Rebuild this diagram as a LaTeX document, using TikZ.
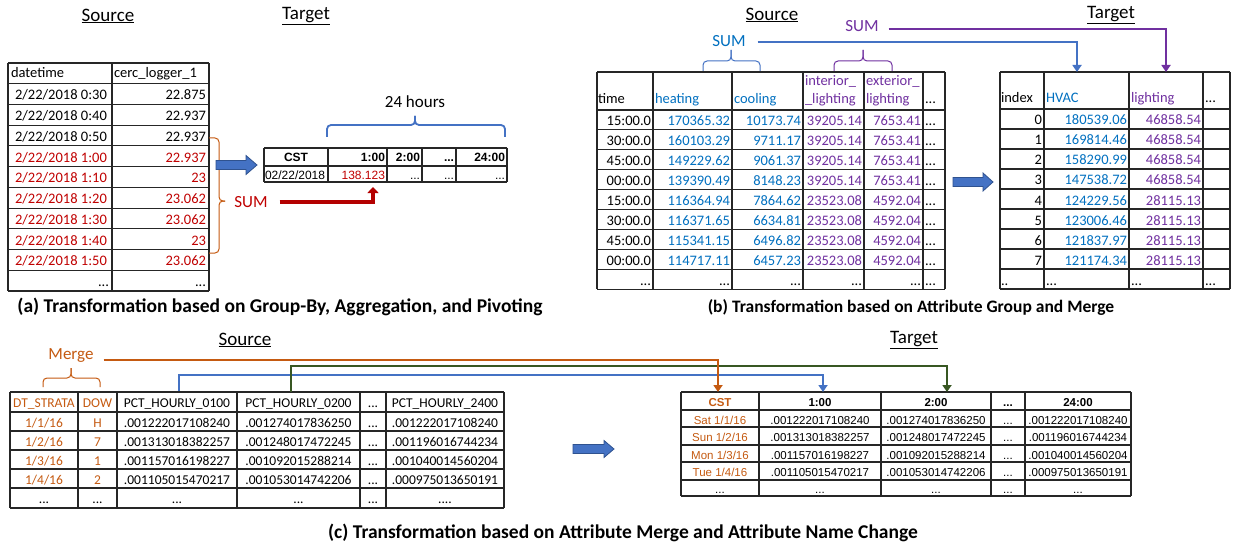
\documentclass[tikz,border=0pt]{standalone}
\usepackage{fontspec}
\setmainfont{Carlito}
\newfontfamily\arialf{Liberation Sans}
\usetikzlibrary{arrows.meta}
\definecolor{cred}{RGB}{192,0,0}
\definecolor{corange}{RGB}{197,90,17}
\definecolor{cblue}{RGB}{0,112,192}
\definecolor{cpurple}{RGB}{112,48,160}
\definecolor{lblue}{RGB}{68,114,196}
\definecolor{lgreen}{RGB}{56,87,35}
\definecolor{bfill}{RGB}{68,114,196}
\definecolor{bdraw}{RGB}{47,82,143}
\definecolor{dred}{RGB}{180,0,0}
\tikzset{
 grid line/.style={line width=1.1pt, draw=black!85},
 tx/.style={inner sep=0pt, outer sep=0pt},
 cal/.style={tx, font=\fontsize{14.5}{17}\selectfont},
 calS/.style={tx, font=\fontsize{13.5}{16}\selectfont},
 ari/.style={tx, font=\arialf\fontsize{12}{14}\selectfont},
 ariB/.style={tx, font=\arialf\bfseries\fontsize{12}{14}\selectfont},
 ariS/.style={tx, font=\arialf\fontsize{11.5}{14}\selectfont},
 ariSB/.style={tx, font=\arialf\bfseries\fontsize{11.5}{14}\selectfont},
 cellL/.style={anchor=base west},
 cellR/.style={anchor=base east},
 cellC/.style={anchor=base},
 titlelbl/.style={tx, font=\fontsize{19}{22}\selectfont, anchor=center},
 lbl/.style={tx, font=\fontsize{17}{20}\selectfont, anchor=center},
 captxt/.style={tx, font=\bfseries\fontsize{19.5}{22}\selectfont, anchor=center},
 captxtS/.style={tx, font=\bfseries\fontsize{17.5}{20}\selectfont, anchor=center},
 conn/.style={line width=2.6pt, -{Triangle[length=7pt,width=9pt]}},
 brc/.style={line width=1pt, rounded corners=4pt},
 barrow/.style={fill=bfill, draw=bdraw, line width=0.8pt},
}
\begin{document}
\begin{tikzpicture}[x=1pt,y=-1pt]
\useasboundingbox (0,0) rectangle (1233,548);
\fill[white] (0,0) rectangle (1233,548);

% ================= (a) =================
\node[titlelbl] (a-src) at (108,16) {\underline{Source}};
\node[titlelbl] (a-tgt) at (306,16) {\underline{Target}};
\foreach \x in {8,112,209} \draw[grid line] (\x,63) -- (\x,291);
\foreach \k in {0,...,11} \draw[grid line] (8,{63+20.727*\k}) -- (209,{63+20.727*\k});
\node[cal,cellL] (as-h1) at (11,78) {datetime};
\node[cal,cellL] (as-h2) at (114,78) {cerc\_logger\_1};
\foreach \tm/\v/\c [count=\i] in {0:30/22.875/black, 0:40/22.937/black, 0:50/22.937/black, 1:00/22.937/cred, 1:10/23/cred, 1:20/23.062/cred, 1:30/23.062/cred, 1:40/23/cred, 1:50/23.062/cred}{
  \pgfmathsetmacro\yy{63+20.727*(\i+1)-4.5}
  \node[cal,cellL,text=\c] (as-d\i) at (15,\yy) {2/22/2018 \tm};
  \node[cal,cellR,text=\c] (as-v\i) at (206,\yy) {\v};
}
\node[cal,cellR] (as-e1) at (109,286) {...};
\node[cal,cellR] (as-e2) at (206,286) {...};

% orange brace and SUM
\draw[brc, corange] (209,138) -- (219,138) -- (219,201) -- (225,201);
\draw[brc, corange] (209,253) -- (219,253) -- (219,201) -- (225,201);
\node[lbl, text=cred] (a-sum) at (251,202) {SUM};

% block arrow
\draw[barrow] (216,160.5) -- (246,160.5) -- (246,155.5) -- (257,165) -- (246,174.5) -- (246,169.5) -- (216,169.5) -- cycle;

% target table
\foreach \x in {264,328,387,422,456,507} \draw[grid line] (\x,148) -- (\x,182);
\foreach \y in {148,166,182} \draw[grid line] (264,\y) -- (507,\y);
\node[ariB,cellC] (at-h1) at (296,162) {CST};
\node[ariB,cellR] (at-h2) at (385,162) {1:00};
\node[ariB,cellR] (at-h3) at (420,162) {2:00};
\node[ariB,cellR] (at-h4) at (454,162) {...};
\node[ariB,cellR] (at-h5) at (505,162) {24:00};
\node[ari,cellL] (at-r1) at (265,179) {02/22/2018};
\node[ari,cellR,text=cred] (at-r2) at (385,179) {138.123};
\node[ari,cellR] (at-r3) at (420,179) {...};
\node[ari,cellR] (at-r4) at (454,179) {...};
\node[ari,cellR] (at-r5) at (505,179) {...};

% 24 hours brace
\node[lbl] (a-24) at (415,102) {24 hours};
\draw[brc, lblue, line width=1.8pt] (327,137) -- (327,125) -- (415,125) -- (415,116);
\draw[brc, lblue, line width=1.8pt] (505,137) -- (505,125) -- (415,125) -- (415,116);

% red SUM arrow
\coordinate (a-tip) at (373,187);
\draw[line width=3.5pt, dred, -{Triangle[length=6pt,width=11pt]}] ([xshift=12pt]a-sum.east) -| (a-tip);

\node[captxt] (a-cap) at (280,307) {(a) Transformation based on Group-By, Aggregation, and Pivoting};

% ================= (b) =================
\node[titlelbl] (b-src) at (772,15) {\underline{Source}};
\node[titlelbl] (b-tgt) at (1111,15) {\underline{Target}};
\foreach \x in {597,653,732,803,864,923,945} \draw[grid line] (\x,72) -- (\x,289.1);
\draw[grid line] (597,72) -- (945,72);
\foreach \k in {0,...,9} \draw[grid line] (597,{110+19.9*\k}) -- (945,{110+19.9*\k});
\node[cal,cellL] (bs-h1) at (598,104) {time};
\node[cal,cellL,text=cblue] (bs-h2) at (655,104) {heating};
\node[cal,cellL,text=cblue] (bs-h3) at (734,104) {cooling};
\node[cal,cellL,text=cpurple] (bs-h4a) at (805,86) {interior\_};
\node[cal,cellL,text=cpurple] (bs-h4b) at (805,104) {\_lighting};
\node[cal,cellL,text=cpurple] (bs-h5a) at (866,86) {exterior\_};
\node[cal,cellL,text=cpurple] (bs-h5b) at (866,104) {lighting};
\node[cal,cellL] (bs-h6) at (925,104) {...};
\foreach \tm/\a/\b/\c/\d [count=\i] in {15:00.0/170365.32/10173.74/39205.14/7653.41, 30:00.0/160103.29/9711.17/39205.14/7653.41, 45:00.0/149229.62/9061.37/39205.14/7653.41, 00:00.0/139390.49/8148.23/39205.14/7653.41, 15:00.0/116364.94/7864.62/23523.08/4592.04, 30:00.0/116371.65/6634.81/23523.08/4592.04, 45:00.0/115341.15/6496.82/23523.08/4592.04, 00:00.0/114717.11/6457.23/23523.08/4592.04}{
  \pgfmathsetmacro\yy{110+19.9*\i-4}
  \node[cal,cellR] (bs-t\i) at (651,\yy) {\tm};
  \node[cal,cellR,text=cblue] (bs-a\i) at (730,\yy) {\a};
  \node[cal,cellR,text=cblue] (bs-b\i) at (801,\yy) {\b};
  \node[cal,cellR,text=cpurple] (bs-c\i) at (862,\yy) {\c};
  \node[cal,cellR,text=cpurple] (bs-d\i) at (921,\yy) {\d};
  \node[cal,cellL] (bs-e\i) at (925,\yy) {...};
}
\foreach \x [count=\i] in {651,730,801,862,921}
  \node[cal,cellR] (bs-l\i) at (\x,285) {...};
\node[cal,cellL] (bs-l6) at (925,285) {...};

% block arrow
\draw[barrow] (953,177.5) -- (983,177.5) -- (983,173) -- (993,182) -- (983,191) -- (983,186.5) -- (953,186.5) -- cycle;

% target table
\foreach \x in {1000,1044,1129,1203,1230} \draw[grid line] (\x,72) -- (\x,289);
\draw[grid line] (1000,72) -- (1230,72);
\foreach \k in {0,...,9} \draw[grid line] (1000,{109+20*\k}) -- (1230,{109+20*\k});
\node[cal,cellL] (bt-h1) at (1001,103) {index};
\node[cal,cellL,text=cblue] (bt-h2) at (1046,103) {HVAC};
\node[cal,cellL,text=cpurple] (bt-h3) at (1131,103) {lighting};
\node[cal,cellL] (bt-h4) at (1205,103) {...};
\foreach \h/\l [count=\i from 0] in {180539.06/46858.54, 169814.46/46858.54, 158290.99/46858.54, 147538.72/46858.54, 124229.56/28115.13, 123006.46/28115.13, 121837.97/28115.13, 121174.34/28115.13}{
  \pgfmathsetmacro\yy{109+20*(\i+1)-4}
  \node[cal,cellR] (bt-i\i) at (1042,\yy) {\i};
  \node[cal,cellR,text=cblue] (bt-v\i) at (1127,\yy) {\h};
  \node[cal,cellR,text=cpurple] (bt-w\i) at (1201,\yy) {\l};
}
\node[cal,cellL] (bt-l1) at (1001,285) {..};
\node[cal,cellL] (bt-l2) at (1046,285) {...};
\node[cal,cellL] (bt-l3) at (1131,285) {...};
\node[cal,cellL] (bt-l4) at (1205,285) {...};

% braces and SUM connectors
\draw[brc, lblue] (703,71) -- (703,61) -- (731,61) -- (731,50);
\draw[brc, lblue] (760,71) -- (760,61) -- (731,61) -- (731,50);
\draw[brc, cpurple] (834,71) -- (834,61) -- (863,61) -- (863,50);
\draw[brc, cpurple] (892,71) -- (892,61) -- (863,61) -- (863,50);
\node[lbl,text=cblue] (b-sum1) at (729,41) {SUM};
\node[lbl,text=cpurple] (b-sum2) at (862,26) {SUM};
\coordinate (b-tip1) at (1077,72);
\coordinate (b-tip2) at (1166,72);
\draw[conn, lblue] ([xshift=12pt,yshift=-1pt]b-sum1.east) -| (b-tip1);
\draw[conn, cpurple] ([xshift=10pt,yshift=-3pt]b-sum2.east) -| (b-tip2);

\node[captxtS] (b-cap) at (911,307) {(b) Transformation based on Attribute Group and Merge};

% ================= (c) =================
\node[titlelbl] (c-src) at (245,340) {\underline{Source}};
\node[titlelbl] (c-tgt) at (914,340) {\underline{Target}};
\node[lbl,text=corange] (c-merge) at (71,356) {Merge};
\draw[brc, corange] (43,387) -- (43,378) -- (71,378) -- (71,368);
\draw[brc, corange] (100,387) -- (100,378) -- (71,378) -- (71,368);

% source table
\foreach \x in {10,78,117,237,360,386,504} \draw[grid line] (\x,392) -- (\x,508);
\foreach \y in {392,412,431,450,469,488,508} \draw[grid line] (10,\y) -- (504,\y);
\node[calS,cellC,text=corange] (cs-h1) at (44,407) {DT\_STRATA};
\node[calS,cellC,text=corange] (cs-h2) at (97.5,407) {DOW};
\node[calS,cellC] (cs-h3) at (177,407) {PCT\_HOURLY\_0100};
\node[calS,cellC] (cs-h4) at (298.5,407) {PCT\_HOURLY\_0200};
\node[calS,cellC] (cs-h5) at (373,407) {...};
\node[calS,cellC] (cs-h6) at (445,407) {PCT\_HOURLY\_2400};
\foreach \dt/\dw/\p/\q/\r [count=\i] in {{1/1/16}/H/.001222017108240/.001274017836250/.001222017108240, {1/2/16}/7/.001313018382257/.001248017472245/.001196016744234, {1/3/16}/1/.001157016198227/.001092015288214/.001040014560204, {1/4/16}/2/.001105015470217/.001053014742206/.000975013650191}{
  \pgfmathsetmacro\yy{412+19.05*\i-4}
  \node[calS,cellC,text=corange] (cs-a\i) at (44,\yy) {\dt};
  \node[calS,cellC,text=corange] (cs-b\i) at (97.5,\yy) {\dw};
  \node[calS,cellC] (cs-c\i) at (177,\yy) {\p};
  \node[calS,cellC] (cs-d\i) at (298.5,\yy) {\q};
  \node[calS,cellC] (cs-e\i) at (373,\yy) {...};
  \node[calS,cellC] (cs-f\i) at (445,\yy) {\r};
}
\node[calS,cellC] (cs-l1) at (44,503) {...};
\node[calS,cellC] (cs-l2) at (97.5,503) {...};
\node[calS,cellC] (cs-l3) at (177,503) {...};
\node[calS,cellC] (cs-l4) at (298.5,503) {...};
\node[calS,cellC] (cs-l5) at (373,503) {...};
\node[calS,cellC] (cs-l6) at (445,503) {....};

% block arrow
\draw[barrow] (573,444.5) -- (604,444.5) -- (604,440.5) -- (614,449) -- (604,457.5) -- (604,453.5) -- (573,453.5) -- cycle;

% target table
\foreach \x in {681,759,881,991,1025,1131} \draw[grid line] (\x,392) -- (\x,496);
\foreach \y in {392,410,427,445,462,480,496} \draw[grid line] (681,\y) -- (1131,\y);
\node[ariSB,cellC,text=corange] (ct-h1) at (720,406) {CST};
\node[ariSB,cellC] (ct-h2) at (820,406) {1:00};
\node[ariSB,cellC] (ct-h3) at (936,406) {2:00};
\node[ariSB,cellC] (ct-h4) at (1008,406) {...};
\node[ariSB,cellC] (ct-h5) at (1078,406) {24:00};
\foreach \dt/\yy/\p/\q/\r [count=\i] in {{Sat 1/1/16}/424/.001222017108240/.001274017836250/.001222017108240, {Sun 1/2/16}/441.5/.001313018382257/.001248017472245/.001196016744234, {Mon 1/3/16}/459/.001157016198227/.001092015288214/.001040014560204, {Tue 1/4/16}/476.5/.001105015470217/.001053014742206/.000975013650191}{
  \node[ariS,cellC,text=corange] (ct-a\i) at (720,\yy) {\dt};
  \node[ariS,cellC] (ct-c\i) at (820,\yy) {\p};
  \node[ariS,cellC] (ct-d\i) at (936,\yy) {\q};
  \node[ariS,cellC] (ct-e\i) at (1008,\yy) {...};
  \node[ariS,cellC] (ct-f\i) at (1078,\yy) {\r};
}
\node[ariS,cellC] (ct-l1) at (720,493) {...};
\node[ariS,cellC] (ct-l2) at (820,493) {...};
\node[ariS,cellC] (ct-l3) at (936,493) {...};
\node[ariS,cellC] (ct-l4) at (1008,493) {...};
\node[ariS,cellC] (ct-l5) at (1078,493) {...};

% connectors
\coordinate (c-bs) at (179,391);
\coordinate (c-bt) at (823,392);
\coordinate (c-gs) at (291,392);
\coordinate (c-gt) at (947,392);
\coordinate (c-ot) at (718,392);
\draw[conn, lblue] (c-bs) -- (179,375) -| (c-bt);
\draw[conn, lgreen] (c-gs) -- (291,366) -| (c-gt);
\draw[conn, corange] ([xshift=10pt,yshift=-4pt]c-merge.east) -| (c-ot);

\node[captxt] (c-cap) at (623,533) {(c) Transformation based on Attribute Merge and Attribute Name Change};
\end{tikzpicture}
\end{document}
